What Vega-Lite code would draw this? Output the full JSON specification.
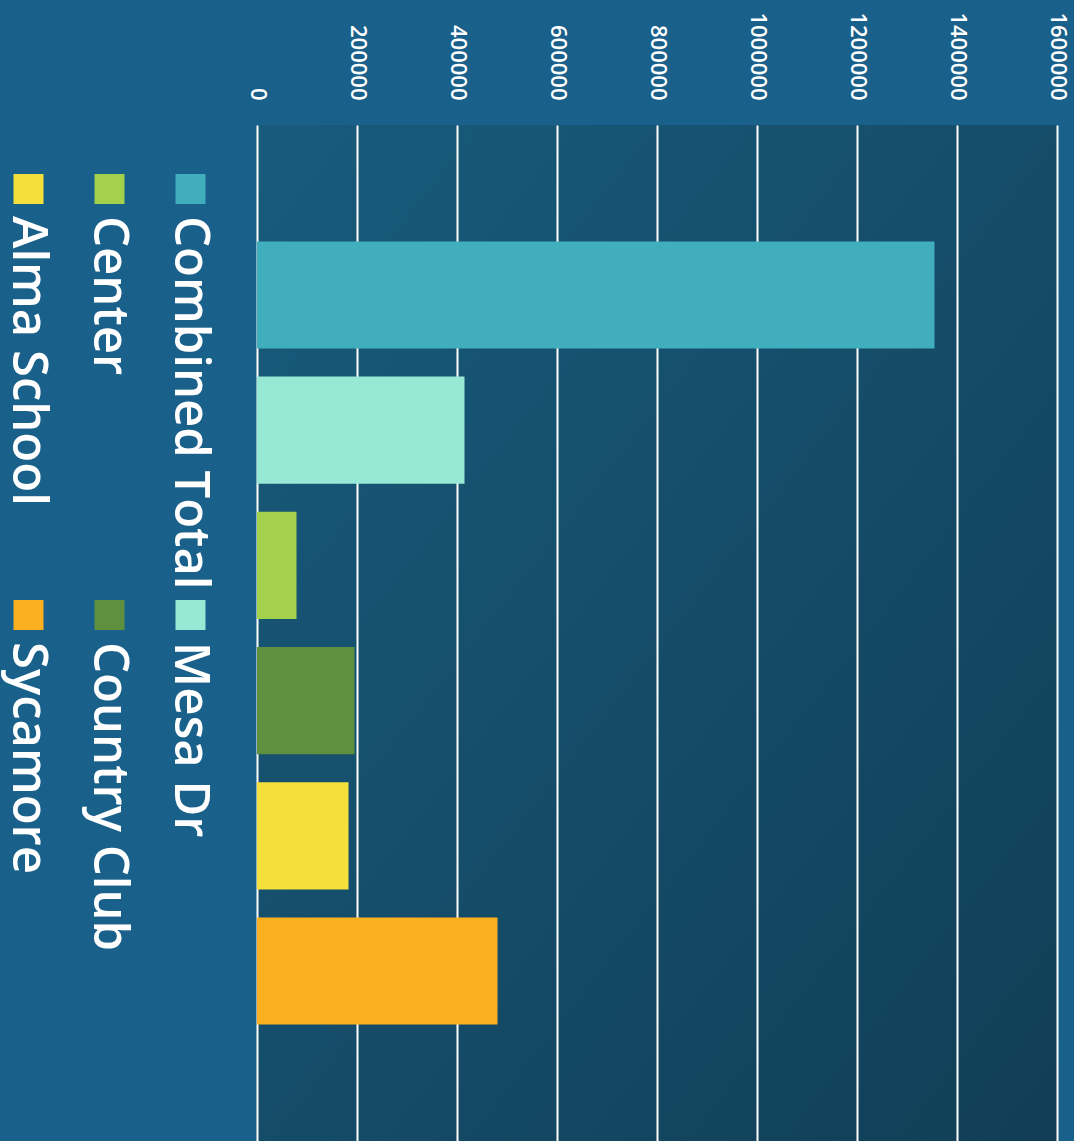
{
  "$schema": "https://vega.github.io/schema/vega-lite/v6.json",
  "width": 800,
  "height": 1016,
  "autosize": {"type": "none"},
  "padding": {"left": 257, "top": 125, "right": 17, "bottom": 0},
  "background": "#19608a",
  "view": {
    "stroke": null,
    "fill": {
      "gradient": "linear",
      "x1": 0, "y1": 0, "x2": 1, "y2": 1,
      "stops": [
        {"offset": 0, "color": "#185b7c"},
        {"offset": 1, "color": "#113e56"}
      ]
    }
  },
  "data": {
    "values": [
      {"location": "Combined Total", "value": 1355000},
      {"location": "Mesa Dr", "value": 415000},
      {"location": "Center", "value": 79000},
      {"location": "Country Club", "value": 195000},
      {"location": "Alma School", "value": 183000},
      {"location": "Sycamore", "value": 481000}
    ]
  },
  "mark": {"type": "bar"},
  "encoding": {
    "y": {
      "field": "location",
      "type": "nominal",
      "sort": null,
      "axis": null,
      "scale": {"paddingInner": 0.207, "paddingOuter": 0.861}
    },
    "x": {
      "field": "value",
      "type": "quantitative",
      "scale": {"domain": [0, 1600000], "nice": false},
      "axis": {
        "orient": "top",
        "title": null,
        "values": [0, 200000, 400000, 600000, 800000, 1000000, 1200000, 1400000, 1600000],
        "format": "d",
        "labelAngle": 90,
        "labelAlign": "right",
        "labelBaseline": "middle",
        "labelPadding": 25,
        "labelFlush": false,
        "labelOverlap": false,
        "labelBound": false,
        "labelFont": "Open Sans",
        "labelFontSize": 22,
        "labelFontWeight": 600,
        "labelColor": "#ffffff",
        "ticks": false,
        "tickSize": 0,
        "domain": false,
        "grid": true,
        "gridColor": "#ffffff",
        "gridWidth": 2,
        "gridOpacity": 1
      }
    },
    "color": {
      "field": "location",
      "type": "nominal",
      "scale": {
        "domain": ["Combined Total", "Mesa Dr", "Center", "Country Club", "Alma School", "Sycamore"],
        "range": ["#41aebd", "#98e8d6", "#a3d14c", "#5f903f", "#f4df3b", "#fbb01f"]
      },
      "legend": {
        "orient": "none",
        "legendX": -253,
        "legendY": 49,
        "direction": "horizontal",
        "columns": 3,
        "values": ["Alma School", "Center", "Combined Total", "Sycamore", "Country Club", "Mesa Dr"],
        "title": null,
        "padding": 0,
        "clipHeight": 426,
        "symbolType": "square",
        "symbolSize": 900,
        "symbolStrokeWidth": 0,
        "symbolOpacity": 1,
        "labelFont": "Open Sans",
        "labelFontSize": 49,
        "labelFontWeight": 600,
        "labelColor": "#ffffff",
        "labelLimit": 2000,
        "columnPadding": 31,
        "rowPadding": 0,
        "encoding": {
          "entries": {
            "width": {"value": 30},
            "height": {"value": 426}
          },
          "symbols": {
            "y": {"value": 15}
          },
          "labels": {
            "angle": {"value": 90},
            "align": {"value": "left"},
            "baseline": {"value": "middle"},
            "x": {"value": 24},
            "y": {"value": 42}
          }
        }
      }
    }
  }
}
